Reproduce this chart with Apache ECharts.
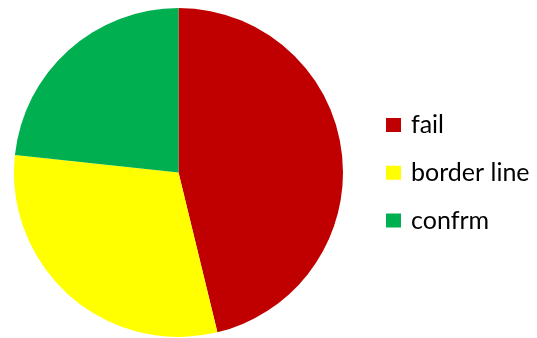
<!DOCTYPE html>
<html><head><meta charset="utf-8">
<script src="https://cdn.jsdelivr.net/npm/echarts@6/dist/echarts.min.js"></script>
<style>html,body{margin:0;padding:0;background:#fff}#c{width:537px;height:338px}</style>
</head><body><div id="c"></div>
<script>
const categories = ["fail", "border line", "confrm"];
const values = [46.2, 30.5, 23.3];
const colors = ["#C00000", "#FFFF00", "#00B050"];
const chart = echarts.init(document.getElementById('c'), null, {renderer:'canvas'});
chart.setOption({
  animation: false,
  color: colors,
  legend: {
    orient: 'vertical',
    left: 386, top: 112.5, padding: 0,
    itemWidth: 15, itemHeight: 14, itemGap: 22.75,
    icon: 'rect',
    textStyle: {fontFamily: 'Lato', fontSize: 25, lineHeight: 25, color: '#000', padding: [0,0,0,5]},
    data: categories
  },
  series: [{
    type: 'pie',
    center: [178.5, 172.5],
    radius: 164.5,
    startAngle: 90,
    clockwise: true,
    label: {show: false},
    labelLine: {show: false},
    itemStyle: {borderWidth: 0},
    emphasis: {disabled: true},
    data: categories.map((c, i) => ({name: c, value: values[i]}))
  }]
});
</script></body></html>
